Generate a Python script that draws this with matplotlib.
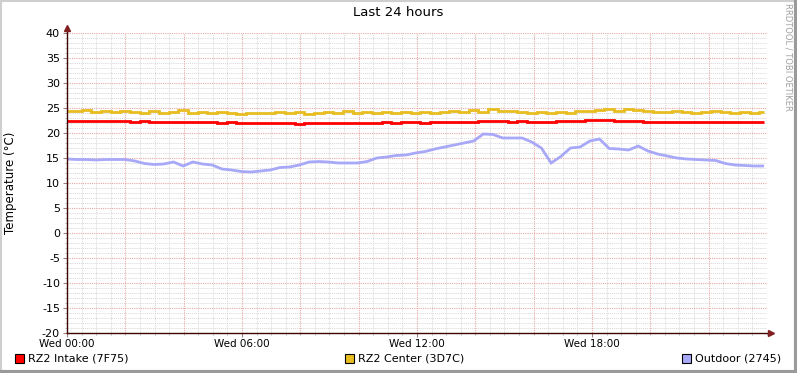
import numpy as np
import matplotlib
matplotlib.use("Agg")
import matplotlib.pyplot as plt
from matplotlib.lines import Line2D
from matplotlib.patches import Rectangle

# sample times (hours since Wed 00:00), 20 min apart
hours = np.linspace(0, 23.9, 73)

intake = [22.5, 22.5, 22.4, 22.5, 22.4, 22.5, 22.4, 22.3, 22.4, 22.3, 22.2, 22.3,
          22.2, 22.3, 22.2, 22.2, 22.1, 22.2, 22.0, 22.1, 22.0, 22.0, 22.1, 22.0,
          21.9, 22.0, 22.1, 22.0, 22.1, 22.0, 22.0, 22.1, 22.1, 22.2, 22.1, 22.2,
          22.2, 22.1, 22.2, 22.2, 22.2, 22.3, 22.3, 22.4, 22.4, 22.4, 22.3, 22.4,
          22.3, 22.3, 22.3, 22.4, 22.5, 22.5, 22.6, 22.6, 22.6, 22.5, 22.4, 22.4,
          22.3, 22.3, 22.3, 22.2, 22.3, 22.3, 22.3, 22.2, 22.2, 22.3, 22.2, 22.2, 22.2]

center = [24.5, 24.4, 24.6, 24.3, 24.5, 24.2, 24.4, 24.3, 24.1, 24.4, 24.0, 24.2,
          24.6, 24.1, 24.3, 24.0, 24.2, 24.0, 23.9, 24.0, 24.1, 24.0, 24.2, 24.0,
          24.3, 23.9, 24.0, 24.2, 24.0, 24.4, 24.1, 24.2, 24.0, 24.3, 24.1, 24.2,
          24.0, 24.2, 24.1, 24.3, 24.4, 24.2, 24.6, 24.3, 24.8, 24.5, 24.4, 24.3,
          24.1, 24.2, 24.0, 24.2, 24.1, 24.4, 24.5, 24.7, 24.8, 24.5, 24.9, 24.6,
          24.4, 24.3, 24.2, 24.4, 24.3, 24.1, 24.2, 24.4, 24.2, 24.1, 24.3, 24.0, 24.2]

outdoor = [14.8, 14.7, 14.7, 14.6, 14.7, 14.7, 14.7, 14.4, 13.9, 13.7, 13.8, 14.2,
           13.4, 14.2, 13.8, 13.6, 12.8, 12.6, 12.3, 12.2, 12.4, 12.6, 13.1, 13.2,
           13.6, 14.2, 14.3, 14.2, 14.0, 14.0, 14.0, 14.3, 15.0, 15.2, 15.5, 15.6,
           16.0, 16.3, 16.8, 17.2, 17.6, 18.0, 18.4, 19.8, 19.7, 19.0, 19.0, 19.0,
           18.2, 17.0, 14.0, 15.3, 17.0, 17.2, 18.4, 18.8, 16.9, 16.8, 16.6, 17.4,
           16.4, 15.8, 15.4, 15.0, 14.8, 14.7, 14.6, 14.5, 13.9, 13.6, 13.5, 13.4, 13.4]

series = [
    ("RZ2 Intake (7F75)", intake, "#ff0000", "steps-mid"),
    ("RZ2 Center (3D7C)", center, "#e8bd20", "steps-mid"),
    ("Outdoor (2745)", outdoor, "#a8a8f8", "default"),
]
y_ticks = list(range(-20, 41, 5))
x_ticks = [0, 6, 12, 18]
x_labels = ["Wed 00:00", "Wed 06:00", "Wed 12:00", "Wed 18:00"]

W, H = 797, 373
fig = plt.figure(figsize=(W / 100, H / 100), dpi=100)
fig.patch.set_facecolor("white")
ax = fig.add_axes([67 / W, (H - 333) / H, 700 / W, 300 / H])

# grids: minor gray, major red, both dotted
for v in np.arange(-20, 40.1, 1):
    if v % 5:
        ax.axhline(v, color="#d8d8d8", lw=0.7, ls=(0, (1, 1)), zorder=0)
for h in np.arange(0.5, 24, 0.5):
    if h % 2:
        ax.axvline(h, color="#d8d8d8", lw=0.7, ls=(0, (1, 1)), zorder=0)
for v in y_ticks[1:]:
    ax.axhline(v, color="#e8a8a8", lw=0.8, ls=(0, (1, 1)), zorder=0.5)
for h in range(2, 24, 2):
    ax.axvline(h, color="#e8a8a8", lw=0.8, ls=(0, (1, 1)), zorder=0.5)

for name, vals, col, ds in series:
    ax.plot(hours, vals, color=col, lw=2, drawstyle=ds, zorder=3,
            solid_capstyle="butt", solid_joinstyle="miter")

ax.set_xlim(0, 24)
ax.set_ylim(-20, 40)
ax.set_facecolor("white")
for s in ax.spines.values():
    s.set_visible(False)
ax.set_yticks(y_ticks)
ax.set_yticklabels([str(v) for v in y_ticks], fontsize=8)
ax.set_xticks(x_ticks)
ax.set_xticklabels(x_labels, fontsize=7.5)
ax.set_xticks(np.arange(0, 24.1, 0.5), minor=True)
ax.set_yticks(np.arange(-20, 40.1, 1), minor=True)
ax.tick_params(axis="both", length=3, width=0.8, color="#a08080", pad=2)
ax.tick_params(axis="both", which="minor", length=1.5, width=0.6, color="#b0b0b0")
ax.tick_params(axis="x", pad=1)
ax.set_ylabel("Temperature (°C)", fontsize=8.5)
ax.yaxis.set_label_coords(-50 / 700, 0.5)

# axes with arrows
axis_col = "#400000"
ax.plot([0, 0], [-20, 40.5], color=axis_col, lw=1, clip_on=False, zorder=4)
ax.plot([0, 24.1], [-20, -20], color=axis_col, lw=1, clip_on=False, zorder=4)
ax.plot([0], [41.1], marker="^", color="#802020", ms=4, clip_on=False, zorder=5)
ax.plot([24.15], [-20], marker=">", color="#802020", ms=4, clip_on=False, zorder=5)

fig.text(398 / W, 1 - 13 / H, "Last 24 hours", ha="center", va="center", fontsize=9.5)
fig.text(788 / W, 1 - 57 / H, "RRDTOOL / TOBI OETIKER", rotation=270,
         ha="center", va="center", fontsize=6, color="#a0a0a0")

# legend boxes
leg_x = [15, 345, 682]
for (name, vals, col, ds), lx in zip(series, leg_x):
    fig.patches.append(Rectangle((lx / W, 1 - 363 / H), 9 / W, 9 / H,
                                 transform=fig.transFigure, facecolor=col,
                                 edgecolor="black", lw=0.8))
    fig.text((lx + 13) / W, 1 - 358.5 / H, name, ha="left", va="center", fontsize=8)

# frame shading
fig.add_artist(Line2D([0, 1], [1 - 0.5 / H, 1 - 0.5 / H], transform=fig.transFigure,
                      color="#cfcfcf", lw=1.5))
fig.add_artist(Line2D([0.5 / W, 0.5 / W], [0, 1], transform=fig.transFigure,
                      color="#cfcfcf", lw=1.5))
fig.add_artist(Line2D([1 - 1.5 / W, 1 - 1.5 / W], [0, 1], transform=fig.transFigure,
                      color="#9a9a9a", lw=3))
fig.add_artist(Line2D([0, 1], [1.5 / H, 1.5 / H], transform=fig.transFigure,
                      color="#9a9a9a", lw=3))

fig.savefig("out.png", dpi=100)
